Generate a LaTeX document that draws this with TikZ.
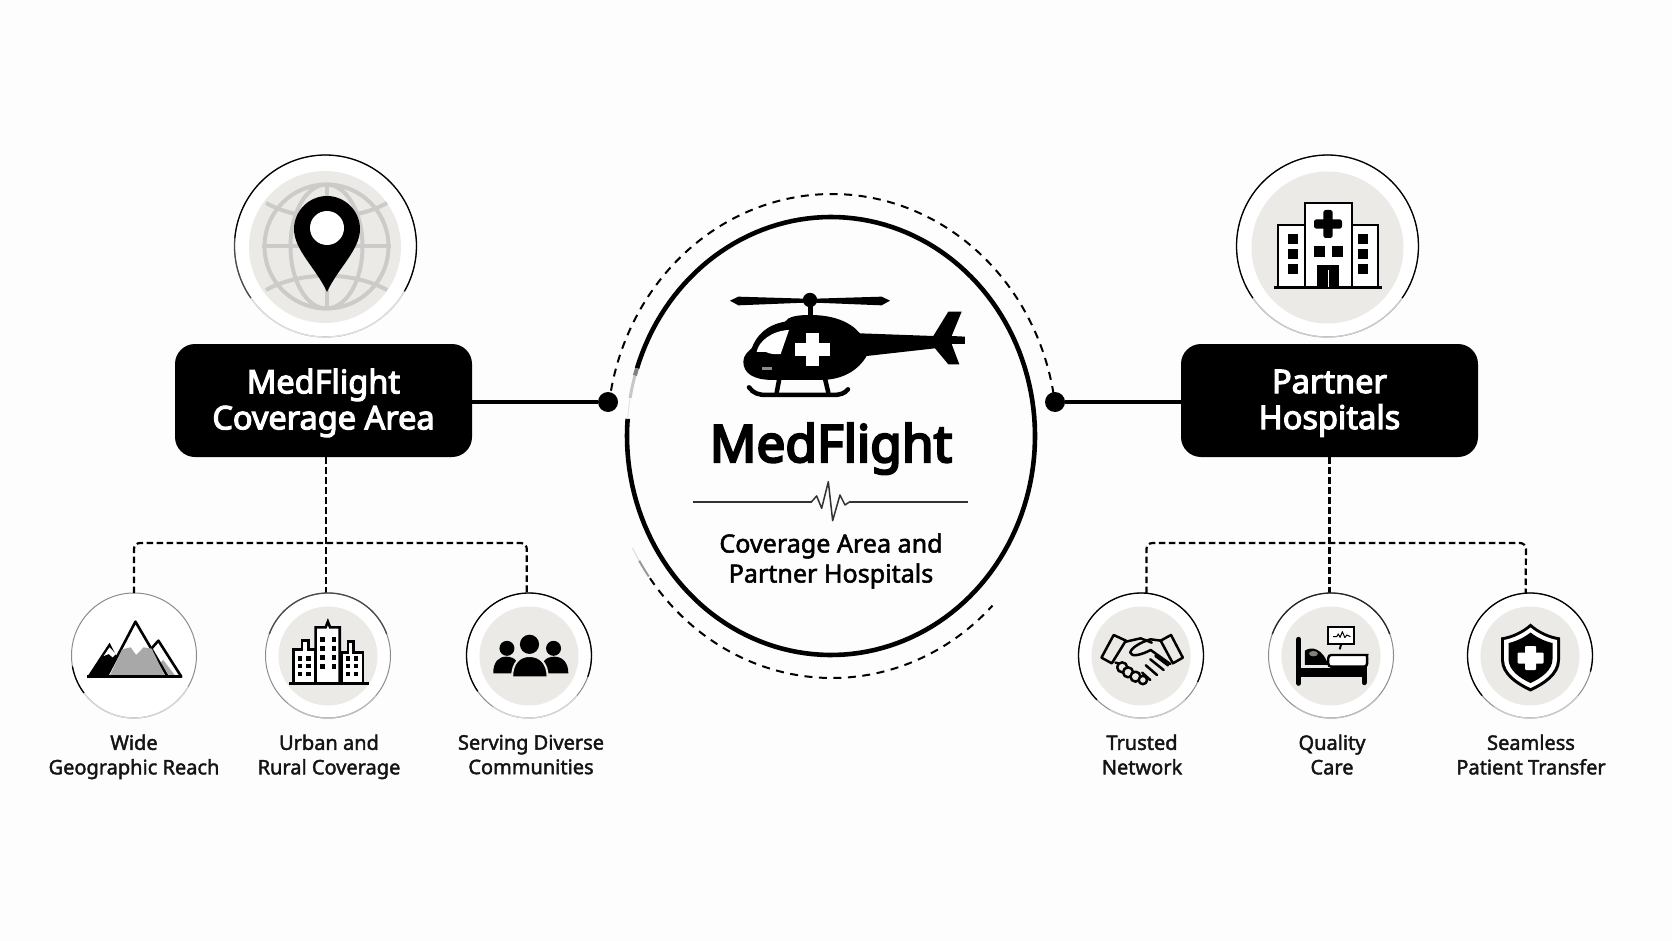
\documentclass[tikz,border=0pt]{standalone}
\usepackage{fontspec}
\setmainfont{Noto Sans}
\newfontfamily\medfont[FakeBold=2]{Noto Sans}
\newfontfamily\subfont[FakeBold=2]{Noto Sans}
\newfontfamily\strongfont[FakeBold=3.5]{Noto Sans}
\newfontfamily\heavyfont[FakeBold=4.5]{Noto Sans}
\definecolor{discgrey}{HTML}{ECEAE6}
\definecolor{globegrey}{HTML}{CCCBC9}
\definecolor{pagewhite}{HTML}{FDFDFD}
\definecolor{rockgrey}{HTML}{A8A8A8}
\newcommand{\ellarc}[7][]{\draw[#1] plot[domain=#6:#7,samples=160] ({#2+#4*cos(\x)},{#3-#5*sin(\x)});}
\newcommand{\ringarc}[6]{\draw[line width=1.3pt,#6] plot[domain=#4:#5,samples=70] ({#1+#3*cos(\x)},{#2-#3*sin(\x)});}
\tikzset{
  ringbig/.style={circle,draw=black!45,line width=1pt,fill=white,minimum size=182pt,inner sep=0pt,outer sep=0pt},
  ringsmall/.style={circle,draw=black!45,line width=1pt,fill=white,minimum size=125pt,inner sep=0pt,outer sep=0pt},
  discbig/.style={circle,fill=discgrey,minimum size=152pt,inner sep=0pt},
  discsmall/.style={circle,fill=discgrey,minimum size=99pt,inner sep=0pt},
  blackbox/.style={rectangle,rounded corners=20pt,fill=black,text=white,align=center,minimum width=297pt,minimum height=113pt,inner sep=0pt,outer sep=0pt,text depth=3pt,font=\fontsize{32.5}{36}\selectfont\strongfont},
  hub/.style={circle,fill=black,minimum size=20pt,inner sep=0pt,outer sep=0pt},
  solidlink/.style={line width=4pt,draw=black},
  dashlink/.style={line width=2.2pt,draw=black,dash pattern=on 6.5pt off 3.5pt},
  orbit/.style={line width=2pt,draw=black,dash pattern=on 8pt off 6.5pt},
  caption/.style={align=center,inner sep=0pt,text=black!92,text depth=5pt,font=\fontsize{20}{24.5}\selectfont\medfont},
  iconline/.style={draw=black,line width=2.6pt,line join=round},
  winblack/.style={fill=black,draw=none}
}
\begin{document}
\begin{tikzpicture}[x=1pt,y=-1pt]
\useasboundingbox (0,0) rectangle (1672,941);
\fill[pagewhite] (0,0) rectangle (1672,941);

% connectors and hubs
\node[blackbox] (boxL) at (323.5,400.5) {\rule{0pt}{24pt}MedFlight\\Coverage Area};
\node[blackbox] (boxR) at (1329.5,400.5) {\rule{0pt}{24pt}Partner\\Hospitals};
\node[hub] (hubL) at (608,402) {};
\node[hub] (hubR) at (1055,402) {};
\node[ringsmall] (c1) at (134,655.5) {};
\node[ringsmall] (c2) at (328,655.5) {};
\node[ringsmall] (c3) at (529,655.5) {};
\node[ringsmall] (c4) at (1141,655.5) {};
\node[ringsmall] (c5) at (1331,655.5) {};
\node[ringsmall] (c6) at (1530,655.5) {};
\coordinate (busL) at (134,543);
\coordinate (busR) at (1526,543);

\draw[solidlink] (boxL.east |- hubL) -- (hubL);
\draw[solidlink] (hubR) -- (boxR.west |- hubR);
\draw[dashlink] (c2.92 |- boxL.south) -- (c2.92);
\draw[dashlink] (boxR.south) -- (boxR.south |- c5.north);
\draw[dashlink,rounded corners=6pt] (c1.north) -- (busL) -- (c3.92 |- busL) -- (c3.92);
\draw[dashlink,rounded corners=6pt] (c4.85) -- (c4.85 |- busR) -- (busR) -- (c6.94);

% orbit and main ellipse
\ellarc[orbit]{832}{436}{225}{242}{10}{170}
\ellarc[orbit]{832}{436}{225}{242}{216}{315.5}
\ellarc[line width=2pt,draw=black!40]{832}{436}{225}{242}{211}{215.5}
\ellarc[line width=1.2pt,draw=black!12]{832}{436}{225}{242}{207.5}{211}
\ellarc[line width=4.6pt,draw=black]{831}{436}{204}{219}{175.5}{522}
\ellarc[line width=4pt,draw=black!50]{831}{436}{204}{219}{522}{524}
\ellarc[line width=3pt,draw=black!22]{831}{436}{204}{219}{524}{530}
\ellarc[line width=1pt,draw=black!10]{831}{436}{204}{219}{530}{535.5}

% big rings
\node[ringbig] (ringL) at (325.5,246) {};
\node[ringbig] (ringR) at (1327.5,246) {};
\ringarc{325.5}{246}{91}{-30}{175}{black}
\ringarc{325.5}{246}{91}{175}{215}{black!70}
\ringarc{325.5}{246}{91}{215}{330}{black!12}
\ringarc{1327.5}{246}{91}{-35}{215}{black}
\ringarc{1327.5}{246}{91}{215}{325}{black!20}
\node[discbig] (discL) at (325,247) {};
\node[discbig] (discR) at (1327.5,247.5) {};

% small ring accents
\ringarc{134}{655.5}{62.5}{190}{217}{black}
\ringarc{134}{655.5}{62.5}{217}{330}{black!15}
\ringarc{328}{655.5}{62.5}{20}{160}{black!70}
\ringarc{328}{655.5}{62.5}{230}{320}{black!25}
\ringarc{529}{655.5}{62.5}{-20}{215}{black}
\ringarc{529}{655.5}{62.5}{235}{320}{black!15}
\ringarc{1141}{655.5}{62.5}{-25}{225}{black}
\ringarc{1141}{655.5}{62.5}{240}{315}{black!20}
\ringarc{1331}{655.5}{62.5}{20}{160}{black!85}
\ringarc{1331}{655.5}{62.5}{235}{320}{black!25}
\ringarc{1530}{655.5}{62.5}{-15}{220}{black}
\ringarc{1530}{655.5}{62.5}{235}{320}{black!20}
\node[discsmall] (d2) at (328,656) {};
\node[discsmall] (d3) at (529,656) {};
\node[discsmall] (d4) at (1141,656) {};
\node[discsmall] (d5) at (1331,656) {};
\node[discsmall] (d6) at (1530,656) {};

% globe and pin
\begin{scope}[draw=globegrey,line width=4pt]
\draw (326.5,246.5) circle[radius=62pt];
\draw (326.5,246.5) ellipse[x radius=36pt,y radius=62pt];
\draw (326.5,184.5) -- (326.5,308.5);
\draw (262,246.5) -- (391,246.5);
\draw (266,203) .. controls (300,222) and (353,222) .. (387,203);
\draw (266,290) .. controls (300,271) and (353,271) .. (387,290);
\end{scope}
\fill[black] (327,292) .. controls (316,268) and (294,250) .. (294,229) .. controls (294,211) and (309,196) .. (327,196) .. controls (345,196) and (360,211) .. (360,229) .. controls (360,250) and (338,268) .. (327,292) -- cycle;
\fill[white] (327,228) circle[radius=17pt];

% hospital
\begin{scope}[line width=2.6pt,draw=black]
\filldraw[fill=white] (1278,287) rectangle (1305,225);
\filldraw[fill=white] (1352,287) rectangle (1378,225);
\filldraw[fill=white] (1305,287) rectangle (1352,203);
\draw[line width=3pt] (1274,287) -- (1382,287);
\end{scope}
\foreach \yy in {239,254,269} {
  \fill[black] (1288,\yy-5) rectangle +(10,10);
  \fill[black] (1358,\yy-5) rectangle +(10,10);
}
\fill[black] (1313.5,246.5) rectangle +(11,11);
\fill[black] (1331.5,246.5) rectangle +(11,11);
\fill[black] (1317,265) rectangle (1339,287);
\fill[white] (1327.6,270) rectangle (1329,287);
\fill[black,rounded corners=2.5pt] (1323.3,210) rectangle (1332.7,238);
\fill[black,rounded corners=2.5pt] (1314,219.3) rectangle (1342,228.7);

% helicopter
\begin{scope}[shift={(710,280)},x=0.3333pt,y=-0.3333pt]
\fill[black] (60,62) -- (85,50) -- (285,56) -- (315,56) -- (515,50) -- (540,62) -- (515,76) -- (315,68) -- (285,68) -- (85,76) -- cycle;
\fill[black] (300,60) circle[radius=7.2pt];
\fill[black] (293,60) rectangle (310,115);
\fill[black] (100,245) .. controls (100,225) and (115,215) .. (125,205)
  .. controls (140,165) and (170,135) .. (225,125)
  .. controls (235,110) and (260,105) .. (300,105)
  .. controls (370,105) and (420,125) .. (450,160)
  -- (670,168) -- (715,95) -- (755,95) -- (725,168) -- (765,170) -- (765,192) -- (725,192) -- (748,253) -- (715,253) -- (675,205) -- (470,228)
  .. controls (445,270) and (400,300) .. (330,300)
  -- (190,300) .. controls (130,300) and (100,280) .. (100,245) -- cycle;
\fill[white] (140,216) .. controls (145,185) and (185,152) .. (237,150) -- (212,222) .. controls (195,224) and (180,222) .. (168,216) -- cycle;
\fill[white] (288,158) rectangle (328,257);
\fill[white] (255,188) rectangle (360,228);
\fill[black!45] (155,260) rectangle (185,270);
\draw[line width=4.5pt,line cap=round] (208,296) -- (200,338);
\draw[line width=4.5pt,line cap=round] (345,296) -- (355,338);
\draw[line width=4.5pt,line cap=round] (117,322) .. controls (130,340) and (145,345) .. (170,345) -- (370,345) .. controls (390,345) and (405,340) .. (414,328);
\end{scope}

% centre text
\node[anchor=base,inner sep=0pt,font=\fontsize{51.4}{60}\selectfont\heavyfont] (title) at (831,462) {MedFlight};
\draw[line width=1.5pt,draw=black!80] (693,502) -- (812,502);
\draw[line width=1.5pt,draw=black!80] (850,502) -- (968,502);
\begin{scope}[shift={(610,180)},x=0.3333pt,y=-0.3333pt]
\draw[line width=1.5pt,draw=black!80,line join=round] (605,965) -- (620,948) -- (635,985) -- (655,905) -- (668,1022) -- (690,945) -- (705,975) -- (720,965);
\end{scope}
\node[align=center,inner sep=0pt,font=\fontsize{25.1}{30}\selectfont\subfont] (subtitle) at (831,561) {Coverage Area and\\Partner Hospitals};

% captions
\node[caption] (t1) at (134,757) {Wide\\Geographic Reach};
\node[caption] (t2) at (329,757) {Urban and\\Rural Coverage};
\node[caption] (t3) at (531,757) {Serving Diverse\\Communities};
\node[caption] (t4) at (1142,757) {Trusted\\Network};
\node[caption] (t5) at (1332,757) {Quality\\Care};
\node[caption] (t6) at (1531,757) {Seamless\\Patient Transfer};

% lower-left icons, in crop coordinates
\begin{scope}[shift={(40,520)},x=0.37pt,y=-0.3333pt]
% mountains
\fill[black] (128,470) -- (188,368) -- (235,470) -- cycle;
\fill[white] (188,382) -- (172,408) -- (186,402) -- (196,412) -- (205,402) -- cycle;
\filldraw[fill=white,draw=black,line width=2.6pt,line join=round] (320,362) -- (382,470) -- (345,470) -- (290,400) -- cycle;
\fill[rockgrey] (333,420) -- (366,468) -- (350,468) -- (326,428) -- cycle;
\filldraw[fill=white,draw=black,line width=2.6pt,line join=round] (258,305) -- (180,470) -- (345,470) -- cycle;
\fill[rockgrey] (189,466) -- (222,388) -- (245,382) -- (260,405) -- (280,382) -- (302,386) -- (337,466) -- cycle;
\draw[line width=3pt] (128,470) -- (382,470);
% city
\filldraw[fill=white,draw=black,line width=2.6pt] (685,490) -- (685,388) -- (708,388) -- (708,362) -- (725,362) -- (725,388) -- (745,388) -- (745,490) -- cycle;
\filldraw[fill=white,draw=black,line width=2.6pt] (815,490) -- (815,398) -- (832,398) -- (832,365) -- (848,365) -- (848,398) -- (873,398) -- (873,490) -- cycle;
\filldraw[fill=white,draw=black,line width=2.6pt] (745,490) -- (745,322) -- (772,322) -- (778,305) -- (784,322) -- (810,322) -- (810,490) -- cycle;
\draw[line width=3pt] (672,490) -- (888,490);
\foreach \xx in {764,794} \foreach \yy in {358,385,412,440} \fill[black] (\xx-6,\yy-7) rectangle +(12,14);
\foreach \xx in {703,726} \foreach \yy in {415,438,462} \fill[black] (\xx-6,\yy-7) rectangle +(12,14);
\foreach \xx in {833,854} \foreach \yy in {415,438,462} \fill[black] (\xx-6,\yy-7) rectangle +(12,14);
% people
\fill[black] (1262,385) circle[radius=7.5pt];
\fill[black] (1388,385) circle[radius=7.5pt];
\fill[black] (1225,460) .. controls (1225,425) and (1240,410) .. (1260,410) .. controls (1285,410) and (1300,430) .. (1290,460) -- cycle;
\fill[black] (1428,460) .. controls (1428,425) and (1410,410) .. (1390,410) .. controls (1365,410) and (1350,430) .. (1360,460) -- cycle;
\fill[black] (1323,373) circle[radius=9.6pt];
\filldraw[fill=black,draw=discgrey,line width=2pt] (1276,472) .. controls (1276,430) and (1295,408) .. (1323,408) .. controls (1352,408) and (1372,430) .. (1372,472) -- cycle;
\end{scope}

% lower-right icons, in crop coordinates
\begin{scope}[shift={(1060,520)},x=0.37pt,y=-0.3333pt]
% handshake
\begin{scope}[draw=black,line width=2.5pt,line join=round,line cap=round]
\draw (145,345) -- (178,362) -- (140,430) -- (112,413) -- cycle;
\draw (300,345) -- (332,413) -- (305,430) -- (272,362) -- cycle;
\draw (178,365) -- (218,355) -- (248,368);
\draw (272,362) -- (245,358) .. controls (220,365) and (190,385) .. (190,398) .. controls (192,412) and (220,405) .. (245,390) -- (298,432);
\draw (150,428) -- (165,432);
\draw (292,436) -- (258,408);
\draw (280,450) -- (244,418);
\draw (262,465) -- (232,436);
\draw (244,480) -- (222,458);
\filldraw[fill=discgrey] (168,442) circle[radius=5pt];
\filldraw[fill=discgrey] (184,457) circle[radius=5pt];
\filldraw[fill=discgrey] (204,470) circle[radius=5pt];
\filldraw[fill=discgrey] (224,480) circle[radius=4.2pt];
\end{scope}
% bed
\fill[black] (645,445) rectangle (830,472);
\draw[line width=5pt,line cap=round] (645,358) -- (645,490);
\draw[line width=5pt,line cap=round] (822,440) -- (822,488);
\fill[black] (662,435) -- (662,392) .. controls (680,378) and (710,385) .. (725,435) -- cycle;
\fill[black!50] (685,401) ellipse[x radius=12,y radius=8];
\filldraw[fill=white,draw=black,line width=2.4pt,rounded corners=3pt] (725,405) -- (822,405) .. controls (828,405) and (830,412) .. (830,420) -- (830,440) -- (725,440) -- cycle;
\filldraw[fill=white,draw=black,line width=2pt] (725,320) rectangle (795,372);
\draw[line width=1pt,line join=round] (738,350) -- (748,350) -- (752,342) -- (757,352) -- (763,335) -- (770,353) -- (775,345) -- (785,350);
\draw[line width=2pt] (760,372) -- (756,388);
\end{scope}

% shield
\begin{scope}[shift={(1530.5,658)}]
\fill[black] (0,-34.5) .. controls (-8,-27) and (-19,-22) .. (-29.5,-20.5) -- (-29.5,2) .. controls (-29.5,17) and (-14,27) .. (0,33.5) .. controls (14,27) and (29.5,17) .. (29.5,2) -- (29.5,-20.5) .. controls (19,-22) and (8,-27) .. (0,-34.5) -- cycle;
\fill[white] (0,-30.5) .. controls (-8,-24) and (-18,-19.5) .. (-26.5,-18) -- (-26.5,1.5) .. controls (-26.5,15) and (-12,24.5) .. (0,30) .. controls (12,24.5) and (26.5,15) .. (26.5,1.5) -- (26.5,-18) .. controls (18,-19.5) and (8,-24) .. (0,-30.5) -- cycle;
\fill[black] (0,-25.5) .. controls (-7,-20) and (-15,-16.5) .. (-22,-15) -- (-22,1) .. controls (-22,12.5) and (-10,20.5) .. (0,25) .. controls (10,20.5) and (22,12.5) .. (22,1) -- (22,-15) .. controls (15,-16.5) and (7,-20) .. (0,-25.5) -- cycle;
\fill[white,rounded corners=1pt] (-5.5,-12) rectangle (5.5,12);
\fill[white,rounded corners=1pt] (-13,-5.5) rectangle (13,5.5);
\end{scope}
\end{tikzpicture}
\end{document}
